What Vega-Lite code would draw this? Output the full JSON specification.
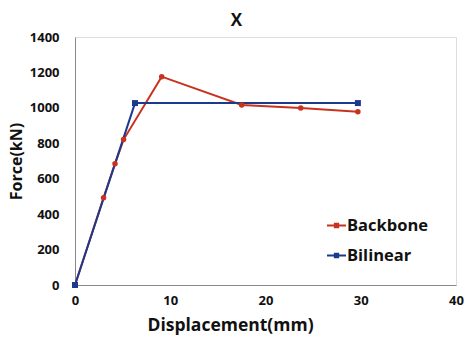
{
  "$schema": "https://vega.github.io/schema/vega-lite/v6.json",
  "autosize": "none",
  "width": 381,
  "height": 248,
  "padding": {"left": 75, "top": 37, "right": 10, "bottom": 55},
  "background": "white",
  "title": {
    "text": "X",
    "fontSize": 17,
    "fontWeight": "bold",
    "font": "Open Sans",
    "color": "#111",
    "anchor": "middle",
    "dx": -29,
    "offset": 1
  },
  "data": {
    "values": [
      {"series": "Backbone", "disp": 0, "force": 0},
      {"series": "Backbone", "disp": 3.0, "force": 493},
      {"series": "Backbone", "disp": 4.2, "force": 684},
      {"series": "Backbone", "disp": 5.1, "force": 821},
      {"series": "Backbone", "disp": 9.1, "force": 1176},
      {"series": "Backbone", "disp": 17.5, "force": 1016},
      {"series": "Backbone", "disp": 23.7, "force": 999},
      {"series": "Backbone", "disp": 29.7, "force": 978},
      {"series": "Bilinear", "disp": 0, "force": 0},
      {"series": "Bilinear", "disp": 6.3, "force": 1027},
      {"series": "Bilinear", "disp": 29.7, "force": 1027}
    ]
  },
  "encoding": {
    "x": {
      "field": "disp",
      "type": "quantitative",
      "scale": {"domain": [0, 40], "nice": false},
      "axis": {
        "title": "Displacement(mm)",
        "values": [0, 10, 20, 30, 40],
        "format": "d",
        "grid": false,
        "ticks": false,
        "domainColor": "#888",
        "labelFont": "Open Sans",
        "labelFontWeight": "bold",
        "labelFontSize": 13,
        "labelColor": "#111",
        "labelPadding": 9,
        "labelFlush": false,
        "titleFont": "Open Sans",
        "titleFontWeight": "bold",
        "titleFontSize": 17.5,
        "titleColor": "#111",
        "titlePadding": 9,
        "titleX": 155,
        "titleAnchor": "middle",
        "titleAlign": "center"
      }
    },
    "y": {
      "field": "force",
      "type": "quantitative",
      "scale": {"domain": [0, 1400], "nice": false},
      "axis": {
        "title": "Force(kN)",
        "values": [0, 200, 400, 600, 800, 1000, 1200, 1400],
        "format": "d",
        "grid": false,
        "ticks": false,
        "domainColor": "#888",
        "labelFont": "Open Sans",
        "labelFontWeight": "bold",
        "labelFontSize": 13,
        "labelColor": "#111",
        "labelPadding": 16,
        "titleFont": "Open Sans",
        "titleFontWeight": "bold",
        "titleFontSize": 16,
        "titleColor": "#111",
        "titlePadding": 5
      }
    },
    "color": {
      "field": "series",
      "type": "nominal",
      "scale": {"domain": ["Backbone", "Bilinear"], "range": ["#C8321E", "#1B3A8C"]},
      "legend": {
        "title": null,
        "orient": "none",
        "legendX": 252,
        "legendY": 179,
        "symbolType": "M-1,-0.1H1V0.1H-1Z M-0.28,-0.28H0.28V0.28H-0.28Z",
        "symbolSize": 360,
        "symbolStrokeWidth": 0,
        "labelFont": "Open Sans",
        "labelFontWeight": "bold",
        "labelFontSize": 16.5,
        "labelColor": "#111",
        "labelOffset": 1,
        "rowPadding": 12
      }
    }
  },
  "layer": [
    {
      "mark": {"type": "line", "strokeWidth": 2}
    },
    {
      "transform": [{"filter": "datum.series === 'Backbone'"}],
      "mark": {"type": "point", "shape": "circle", "filled": true, "size": 30, "opacity": 1}
    },
    {
      "transform": [{"filter": "datum.series === 'Bilinear'"}],
      "mark": {"type": "point", "shape": "square", "filled": true, "size": 36, "opacity": 1}
    }
  ]
}
